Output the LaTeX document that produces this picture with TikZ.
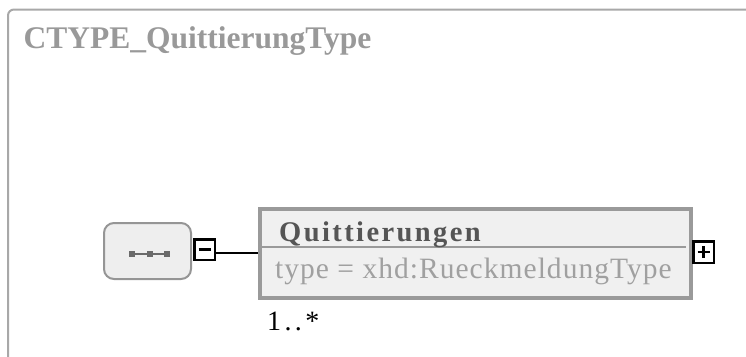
\documentclass[tikz,border=0pt]{standalone}
\usepackage{fontspec}
\setmainfont{Liberation Serif}
\newfontfamily\titlefont{Liberation Serif}
\newfontfamily\elemfont[LetterSpace=8.5]{Liberation Serif}
\newfontfamily\attrfont[LetterSpace=3.5]{Liberation Serif}
\newfontfamily\multfont[LetterSpace=12]{Liberation Serif}
\definecolor{framegray}{HTML}{A8A8A8}
\definecolor{titlegray}{HTML}{999999}
\definecolor{boxgray}{HTML}{9A9A9A}
\definecolor{fillgray}{HTML}{F0F0F0}
\definecolor{seqborder}{HTML}{959595}
\definecolor{seqfill}{HTML}{EEEEEE}
\definecolor{dotgray}{HTML}{6A6A6A}
\definecolor{namegray}{HTML}{555555}
\definecolor{attrgray}{HTML}{A0A0A0}
\tikzset{
  seqbox/.style={draw=seqborder, fill=seqfill, line width=2pt, rounded corners=10pt,
    minimum width=87pt, minimum height=56pt, inner sep=0pt},
  togglebox/.style={draw=black, fill=white, line width=2.5pt, minimum width=20.5pt,
    minimum height=20.5pt, inner sep=0pt},
  elembox/.style={draw=boxgray, fill=fillgray, line width=4pt, minimum width=431pt,
    minimum height=89pt, inner sep=0pt},
  conn/.style={draw=black, line width=2pt},
}
\begin{document}
\begin{tikzpicture}[x=1pt,y=-1pt]
\useasboundingbox (0,0) rectangle (746,356);
% outer frame
\draw[framegray, line width=2pt, rounded corners=6pt] (8,360) -- (8,9.5) -- (750,9.5);
\node[anchor=base west, inner sep=0pt, text=titlegray, font=\titlefont\fontsize{31.5}{35}\selectfont\bfseries] (title) at (23.5,48.5) {CTYPE\_QuittierungType};
% sequence compositor
\node[seqbox] (seq) at (147.5,251) {};
\draw[dotgray, line width=1.5pt] (132,254) -- (167,254);
\foreach \xx in {132,149.5,167} {\fill[dotgray] (\xx-3,251) rectangle (\xx+3,257);}
\node[togglebox] (minus) at (204.5,249.5) {};
\draw[line width=2.5pt] (198.5,249.5) -- (210.5,249.5);
% element
\node[elembox] (elem) at (475.5,253.5) {};
\draw[boxgray, line width=2pt] (262,247) -- (686,247);
\node[anchor=base west, inner sep=0pt, text=namegray, font=\elemfont\fontsize{28.5}{32}\selectfont\bfseries] (ename) at (279,241.5) {Quittierungen};
\node[anchor=base west, inner sep=0pt, text=attrgray, font=\attrfont\fontsize{29.5}{33}\selectfont] (eattr) at (275,278) {type = xhd:RueckmeldungType};
\node[togglebox, minimum height=21.5pt] (plus) at (703.5,252) {};
\draw[line width=2.5pt] (697.5,252) -- (709.5,252) (703.5,246) -- (703.5,258);
\node[anchor=base west, inner sep=0pt, font=\multfont\fontsize{28}{31}\selectfont] (mult) at (267,330) {1..*};
% connector
\coordinate (cstart) at ([yshift=-3.5pt]minus.east);
\draw[conn] (cstart) -- (cstart -| elem.west);
\end{tikzpicture}
\end{document}
